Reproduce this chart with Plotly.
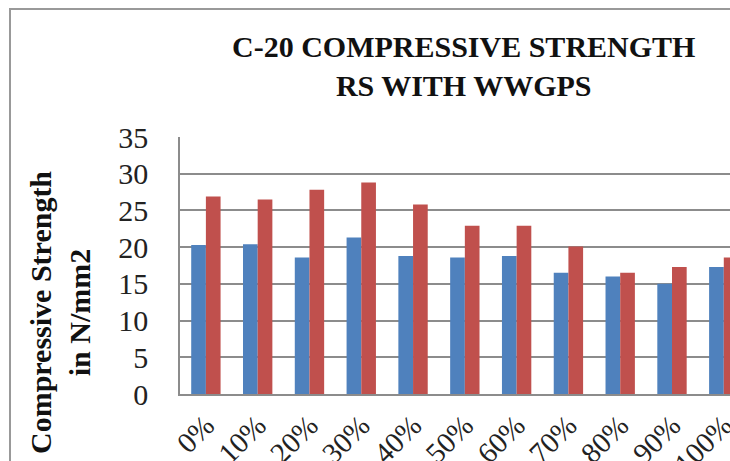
import plotly.graph_objects as go

categories = ["0%", "10%", "20%", "30%", "40%", "50%", "60%", "70%", "80%", "90%", "100%"]
series_blue = [20.3, 20.4, 18.6, 21.3, 18.8, 18.6, 18.8, 16.5, 16.0, 15.0, 17.3]
series_red = [26.9, 26.5, 27.8, 28.8, 25.8, 22.9, 22.9, 20.1, 16.5, 17.3, 18.6]
y_ticks = [0, 5, 10, 15, 20, 25, 30, 35]

SERIF = "Liberation Serif, Times New Roman, serif"
GRID = "#8c8c8c"

fig = go.Figure()
fig.add_trace(go.Bar(x=categories, y=series_blue, name="Series1", marker=dict(color="#4F81BD", line=dict(width=0))))
fig.add_trace(go.Bar(x=categories, y=series_red, name="Series2", marker=dict(color="#C0504D", line=dict(width=0))))

fig.update_layout(
    width=730, height=461, autosize=False,
    margin=dict(l=180, r=0, t=137, b=67, pad=0, autoexpand=False),
    paper_bgcolor="white", plot_bgcolor="white",
    barmode="group", bargap=0.433, bargroupgap=0,
    showlegend=False,
    font=dict(family=SERIF, color="#222222"),
)
fig.update_xaxes(
    type="category", range=[-0.5, 10.12], automargin=False,
    tickangle=-45, tickfont=dict(size=29, family=SERIF, color="#222222"),
    showline=True, linecolor=GRID, linewidth=1.5,
    showgrid=False, ticks="", ticklabelstandoff=1,
)
fig.update_yaxes(
    range=[0, 35], tickvals=y_ticks, automargin=False,
    tickfont=dict(size=30, family=SERIF, color="#222222"),
    showline=True, linecolor=GRID, linewidth=1.5,
    showgrid=True, gridcolor=GRID, gridwidth=1.5,
    ticks="", ticklabelstandoff=24, zeroline=False,
)

# outer chart frame (cropped at right and bottom)
fig.add_shape(type="rect", xref="paper", yref="paper",
              x0=(10 - 180) / 550, x1=1.2, y0=-0.6, y1=(394 - 9) / 257,
              line=dict(color="#999999", width=2), fillcolor="rgba(0,0,0,0)", layer="above")

fig.add_annotation(
    text="<b>C-20 COMPRESSIVE STRENGTH<br>RS WITH WWGPS</b>",
    xref="paper", yref="paper", x=(463 - 180) / 550, y=(394 - 66) / 257,
    xanchor="center", yanchor="middle", showarrow=False,
    font=dict(size=30, family=SERIF, color="#111111"),
)
fig.add_annotation(
    text="<b>Compressive Strength<br>in N/mm2</b>",
    xref="paper", yref="paper", x=(60 - 180) / 550, y=(394 - 313) / 257,
    xanchor="center", yanchor="middle", showarrow=False, textangle=-90,
    font=dict(size=30, family=SERIF, color="#111111"),
)

fig.write_html(
    "out.html",
    config={"displayModeBar": False},
    post_script="document.body.style.margin='0';document.body.style.overflow='hidden';",
)
